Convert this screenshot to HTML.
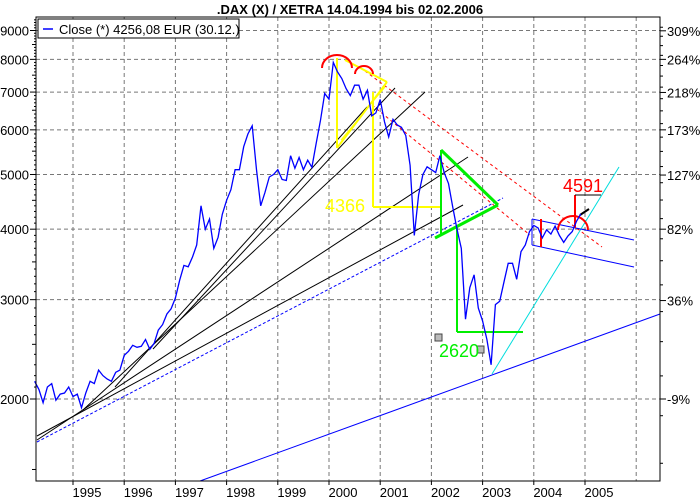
<!DOCTYPE html>
<html><head><meta charset="utf-8"><style>
body{margin:0;background:#fff}
svg{display:block;font-family:"Liberation Sans",sans-serif}
</style></head><body>
<svg id="c" width="700" height="500">
<rect x="0" y="0" width="700" height="500" fill="#fff"/>
<text x="350" y="14" text-anchor="middle" font-size="13" font-weight="bold">.DAX (X) / XETRA 14.04.1994 bis 02.02.2006</text>
<g id="grid"></g>
<g id="ann"></g>
<g id="series"></g>
<rect x="36" y="17" width="624" height="464" fill="none" stroke="#000"/>
<g id="axes"></g>
<g>
<rect x="38" y="19" width="201" height="19" fill="#fff" stroke="#000"/>
<line x1="43" y1="29" x2="53" y2="29" stroke="#00f" stroke-width="1.5"/>
<text x="59" y="34" font-size="13">Close (*) 4256,08 EUR (30.12.)</text>
</g>
</svg>
<script>
const yTicks=[2000,3000,4000,5000,6000,7000,8000,9000];
const pctTicks=[-9,36,82,127,173,218,264,309];
const years=[1995,1996,1997,1998,1999,2000,2001,2002,2003,2004,2005];
const startYear=1994.25;
const closes=[2150,2080,1970,2100,2130,1990,2040,2050,2100,
2020,2040,1930,2050,2150,2130,2250,2200,2170,2150,2230,2250,
2390,2430,2490,2470,2480,2550,2450,2510,2650,2710,2830,2890,
3020,3250,3450,3430,3570,3750,4400,4000,4170,3700,3870,4250,
4500,4700,5100,5100,5600,5900,6100,5100,4400,4650,4950,5000,
5100,4900,4880,5400,5130,5360,5100,5300,5150,5680,6240,6960,
6800,7900,7600,7400,7100,6900,7200,7200,6800,7050,6350,6430,
6790,6200,5830,6260,6120,6060,5860,5190,3900,4600,5000,5160,
5100,5040,5400,5040,4820,4380,4000,3700,2770,3150,3320,2900,
2750,2550,2300,2940,2980,3220,3480,3480,3260,3650,3750,3960,
4060,4020,3860,3990,3920,4050,3900,3790,3890,3960,4130,4256];
const NS="http://www.w3.org/2000/svg";
const X=t=>73+(t-1995)*51.2;
const Y=v=>399-245*Math.log(v/2000);
function el(p,tag,at){const e=document.createElementNS(NS,tag);for(const k in at)e.setAttribute(k,at[k]);p.appendChild(e);return e;}
const grid=document.getElementById('grid'),axes=document.getElementById('axes');
yTicks.forEach(v=>{
 const l=el(grid,'line',{x1:36,x2:660,y1:Y(v),y2:Y(v),stroke:'#777','stroke-dasharray':'4,3'});
 
 
 el(axes,'line',{x1:30,x2:36,y1:Y(v),y2:Y(v),stroke:'#000'});
 const t=el(axes,'text',{x:29,y:Y(v)+5,'text-anchor':'end','font-size':'13'});t.textContent=v;
 
 
});
for(let v=1500;v<9500;v+=100){if(v%1000===0)continue;const m=(v%500===0)?4:2;if(v<2000&&v%500)continue;el(axes,'line',{x1:36-m,x2:36,y1:Y(v),y2:Y(v),stroke:'#000'});}
const base=4000/1.82;
pctTicks.forEach(p=>{
 const y=Y(base*(1+p/100));
 el(axes,'line',{x1:660,x2:666,y1:y,y2:y,stroke:'#000'});
 const t=el(axes,'text',{x:667,y:y+5,'font-size':'13'});t.textContent=p+'%';
 
 
});
for(let p=-30;p<=320;p+=15){el(axes,'line',{x1:660,x2:663,y1:Y(base*(1+p/100)),y2:Y(base*(1+p/100)),stroke:'#000'});}
years.forEach(yr=>{
 const x=X(yr);
 const l=el(grid,'line',{x1:x,x2:x,y1:17,y2:481,stroke:'#777','stroke-dasharray':'4,3'});
 
 
 el(axes,'line',{x1:x,x2:x,y1:481,y2:485,stroke:'#000'});
 const t=el(axes,'text',{x:x+14,y:497,'text-anchor':'middle','font-size':'13'});t.textContent=yr;
 
 
});
el(grid,'line',{x1:X(2006),x2:X(2006),y1:17,y2:481,stroke:'#777','stroke-dasharray':'4,3'});
const ann=document.getElementById('ann');
function L(x1,y1,x2,y2,c,w,d,name){const a={x1,y1,x2,y2,stroke:c,'stroke-width':w||1};if(d)a['stroke-dasharray']=d;const e=el(ann,'line',a);
 
 return e;}
L(37,436,463,205,'#000',1);L(37,440,468,157,'#000',1);
L(37,442,503,198,'#00f',1,'3,2','support-dotted');
L(83,410,425,92,'#000',1);L(115,387,367,107,'#000',1);L(153,349,395,88,'#000',1);
L(200,481,660,314,'#00f',1,null,'long-support');
L(492,374,619,167,'#0dd',1,null,'cyan-trend');
L(365,71,602,247,'#f00',1,'3,3','red-dotted-1');L(372,105,530,235,'#f00',1,'3,3','red-dotted-2');
L(532,219,634,240,'#00f',1);L(532,245,634,267,'#00f',1);L(532,219,532,245,'#00f',1);
L(337,58,337,148,'#ff0',2);L(337,148,387,82,'#ff0',2);L(345,60,387,82,'#ff0',2);L(341,140,385,87,'#ff0',1);
L(373,92,373,207,'#ff0',2);L(373,207,442,207,'#ff0',2);
L(441,150,441,235,'#0e0',2);L(441,150,498,205,'#0e0',3);L(498,205,435,238,'#0e0',3);
L(457,227,457,332,'#0e0',2);L(457,332,523,332,'#0e0',2);
el(ann,'path',{d:'M322,68 A15,13 0 0 1 352,68',fill:'none',stroke:'#f00','stroke-width':2});
el(ann,'path',{d:'M355,74 A9,8 0 0 1 373,74',fill:'none',stroke:'#f00','stroke-width':2});
el(ann,'path',{d:'M558,230 A15,14 0 0 1 588,230',fill:'none',stroke:'#f00','stroke-width':2});
L(575,195,575,228,'#f00',2);L(575,195,601,195,'#000',1);L(541,219,541,247,'#f00',2);
L(580,215,589,209,'#000',2);
el(ann,'rect',{x:435,y:334,width:7,height:7,fill:'#bbb',stroke:'#444'});
el(ann,'rect',{x:477,y:346,width:7,height:7,fill:'#bbb',stroke:'#444'});
function T(x,y,s,c,name){const t=el(ann,'text',{x,y,'font-size':'18',fill:c,'text-anchor':'middle'});t.textContent=s;
 
 }
T(345,212,'4366','#ff0','label-4366');T(459,357,'2620','#0e0','label-2620');T(583,192,'4591','#f00','label-4591');
const pts=closes.map((v,i)=>X(startYear+i/12).toFixed(1)+','+Y(v).toFixed(1)).join(' ');
const pl=el(document.getElementById('series'),'polyline',{points:pts,fill:'none',stroke:'#00f','stroke-width':1.3});


</script>
</body></html>
